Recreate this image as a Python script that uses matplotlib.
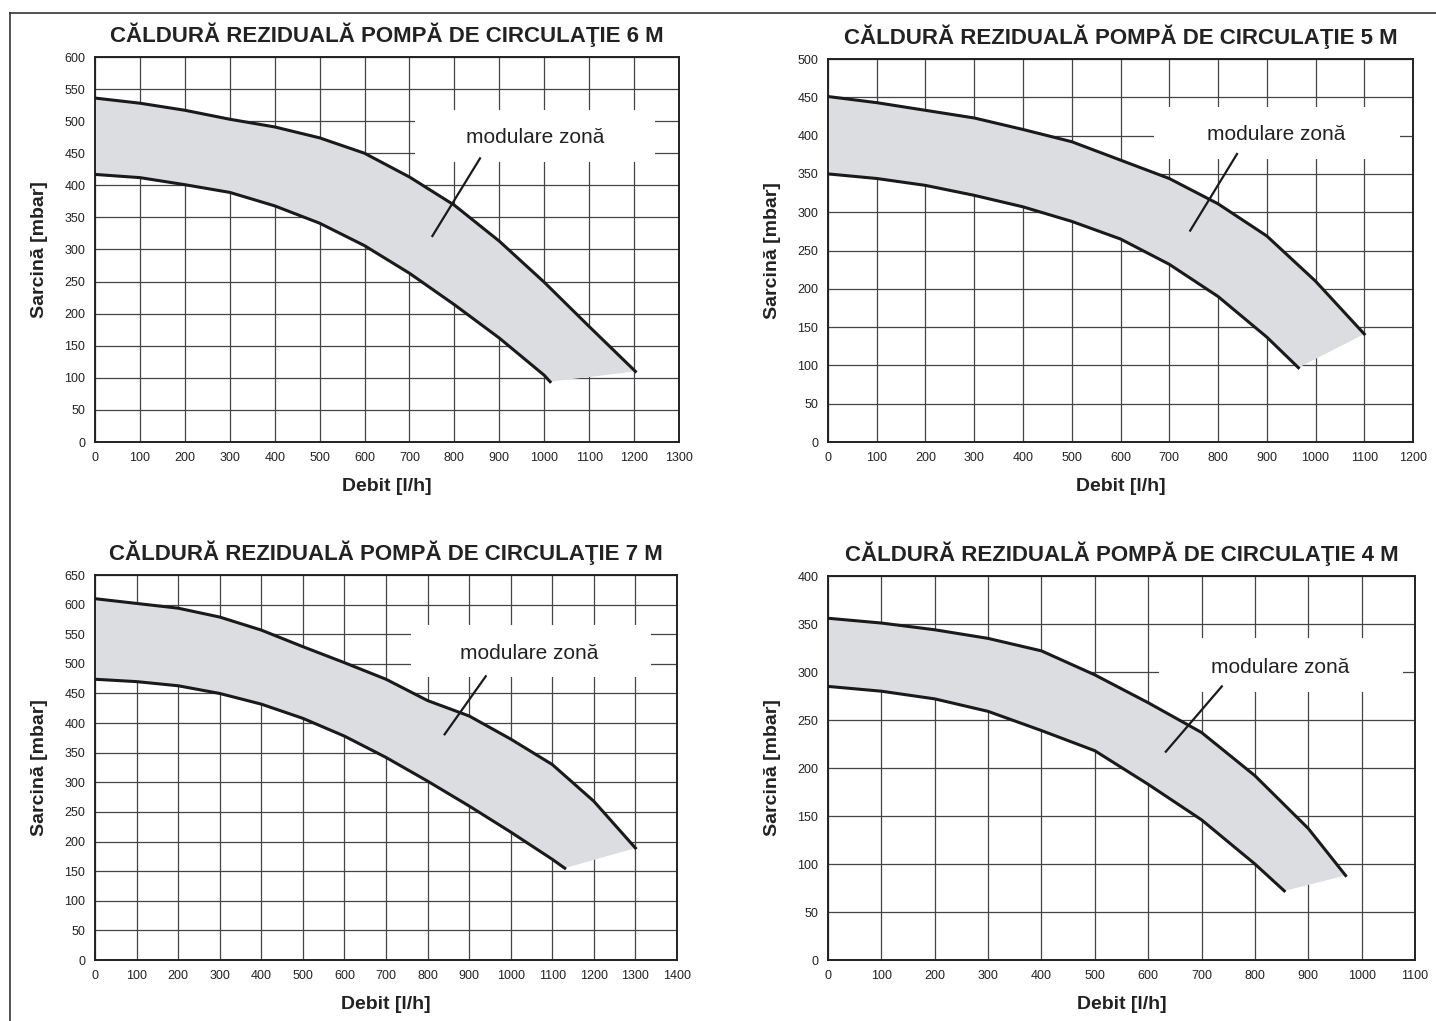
import matplotlib
matplotlib.use('Agg')
import matplotlib.pyplot as plt
from matplotlib.patches import Rectangle
from matplotlib.lines import Line2D
import numpy as np

plt.rcParams['font.family'] = ['Liberation Sans', 'DejaVu Sans']

# --- data (flow l/h, head mbar) ---
titles = [
    'CĂLDURĂ REZIDUALĂ POMPĂ DE CIRCULAŢIE 6 M',
    'CĂLDURĂ REZIDUALĂ POMPĂ DE CIRCULAŢIE 5 M',
    'CĂLDURĂ REZIDUALĂ POMPĂ DE CIRCULAŢIE 7 M',
    'CĂLDURĂ REZIDUALĂ POMPĂ DE CIRCULAŢIE 4 M',
]
xlabel = 'Debit [l/h]'
ylabel = 'Sarcină [mbar]'
zone_label = 'modulare zonă'

q6_up = [0, 100, 200, 300, 400, 500, 600, 700, 800, 900, 1000, 1100, 1203]
h6_up = [536, 528, 517, 503, 491, 474, 450, 413, 369, 313, 249, 180, 110]
q6_lo = [0, 100, 200, 300, 400, 500, 600, 700, 800, 900, 1000, 1013]
h6_lo = [417, 412, 401, 389, 368, 341, 306, 263, 214, 162, 104, 94]

q5_up = [0, 100, 200, 300, 400, 500, 600, 700, 800, 900, 1000, 1100]
h5_up = [451, 443, 433, 423, 408, 392, 368, 344, 311, 269, 210, 141]
q5_lo = [0, 100, 200, 300, 400, 500, 600, 700, 800, 900, 965]
h5_lo = [350, 344, 335, 322, 307, 288, 265, 232, 190, 137, 97]

q7_up = [0, 100, 200, 300, 400, 500, 600, 700, 800, 900, 1000, 1100, 1200, 1300]
h7_up = [610, 602, 594, 579, 557, 529, 502, 474, 438, 412, 373, 330, 268, 189]
q7_lo = [0, 100, 200, 300, 400, 500, 600, 700, 800, 900, 1000, 1100, 1130]
h7_lo = [474, 470, 463, 450, 432, 408, 378, 342, 302, 260, 216, 170, 155]

q4_up = [0, 100, 200, 300, 400, 500, 600, 700, 800, 900, 970]
h4_up = [356, 351, 344, 335, 322, 297, 268, 237, 192, 137, 88]
q4_lo = [0, 100, 200, 300, 400, 500, 600, 700, 800, 855]
h4_lo = [285, 280, 272, 259, 239, 218, 183, 146, 100, 72]

x_max = [1300, 1200, 1400, 1100]
y_max = [600, 500, 650, 400]

curves = [
    (q6_up, h6_up, q6_lo, h6_lo),
    (q5_up, h5_up, q5_lo, h5_lo),
    (q7_up, h7_up, q7_lo, h7_lo),
    (q4_up, h4_up, q4_lo, h4_lo),
]

# --- layout (pixel boxes of each axes: left, right, top, bottom) ---
W, H = 1436, 1021
boxes = [(95, 679, 57, 442), (828, 1413, 59, 442),
         (95, 677, 575, 960), (828, 1415, 576, 960)]
# label box (x0, x1, y0, y1), text centre, leader line
label_layout = [
    ((713, 1247, 437, 517), (980, 474), ((857, 442), (751, 321))),
    ((669, 1173, 369, 437), (919, 402), ((839, 376), (743, 276))),
    ((759, 1337, 478, 566), (1045, 518), ((940, 479), (841, 381))),
    ((620, 1078, 279, 335), (847, 305), ((738, 285), (633, 217))),
]

fig = plt.figure(figsize=(W / 100, H / 100), dpi=100)

for i in range(4):
    l, r, t, b = boxes[i]
    ax = fig.add_axes([l / W, 1 - b / H, (r - l) / W, (b - t) / H])
    qu, hu, ql, hl = curves[i]

    ax.set_xlim(0, x_max[i])
    ax.set_ylim(0, y_max[i])
    ax.set_xticks(np.arange(0, x_max[i] + 1, 100))
    ax.set_yticks(np.arange(0, y_max[i] + 1, 50))
    ax.set_axisbelow(True)
    ax.grid(True, color='#444444', lw=0.9)
    ax.tick_params(length=0, labelsize=9, colors='#222222')
    ax.tick_params(axis='x', pad=7)
    ax.tick_params(axis='y', pad=7)
    for s in ax.spines.values():
        s.set_color('#222222')
        s.set_linewidth(1.4)

    # shaded modulation band
    px = list(qu) + list(ql[::-1])
    py = list(hu) + list(hl[::-1])
    ax.fill(px, py, color='#dcdde0', lw=0, zorder=1)
    ax.plot(qu, hu, color='#1a1a1a', lw=2.2, zorder=3)
    ax.plot(ql, hl, color='#1a1a1a', lw=2.2, zorder=3)

    (bx0, bx1, by0, by1), (tx, ty), ((lx0, ly0), (lx1, ly1)) = label_layout[i]
    ax.add_patch(Rectangle((bx0, by0), bx1 - bx0, by1 - by0,
                           facecolor='white', edgecolor='none', zorder=1.5))
    ax.text(tx, ty, zone_label, ha='center', va='center', fontsize=15,
            color='#222222', zorder=4)
    ax.plot([lx0, lx1], [ly0, ly1], color='#1a1a1a', lw=1.6, zorder=4)

    ax.set_title(titles[i], fontsize=16, fontweight='bold', color='#222222', pad=11)
    ax.set_xlabel(xlabel, fontsize=14, fontweight='bold', color='#222222')
    ax.set_ylabel(ylabel, fontsize=14, fontweight='bold', color='#222222')
    ax.xaxis.set_label_coords(0.5, -36 / (b - t))
    ax.yaxis.set_label_coords(-47 / (r - l), 0.5)

# page border (left and top)
fig.add_artist(Line2D([10 / W, 10 / W], [0, 1 - 13 / H], color='#333333', lw=1.2))
fig.add_artist(Line2D([10 / W, 1], [1 - 13 / H, 1 - 13 / H], color='#333333', lw=1.2))

fig.savefig('out.png', dpi=100)
